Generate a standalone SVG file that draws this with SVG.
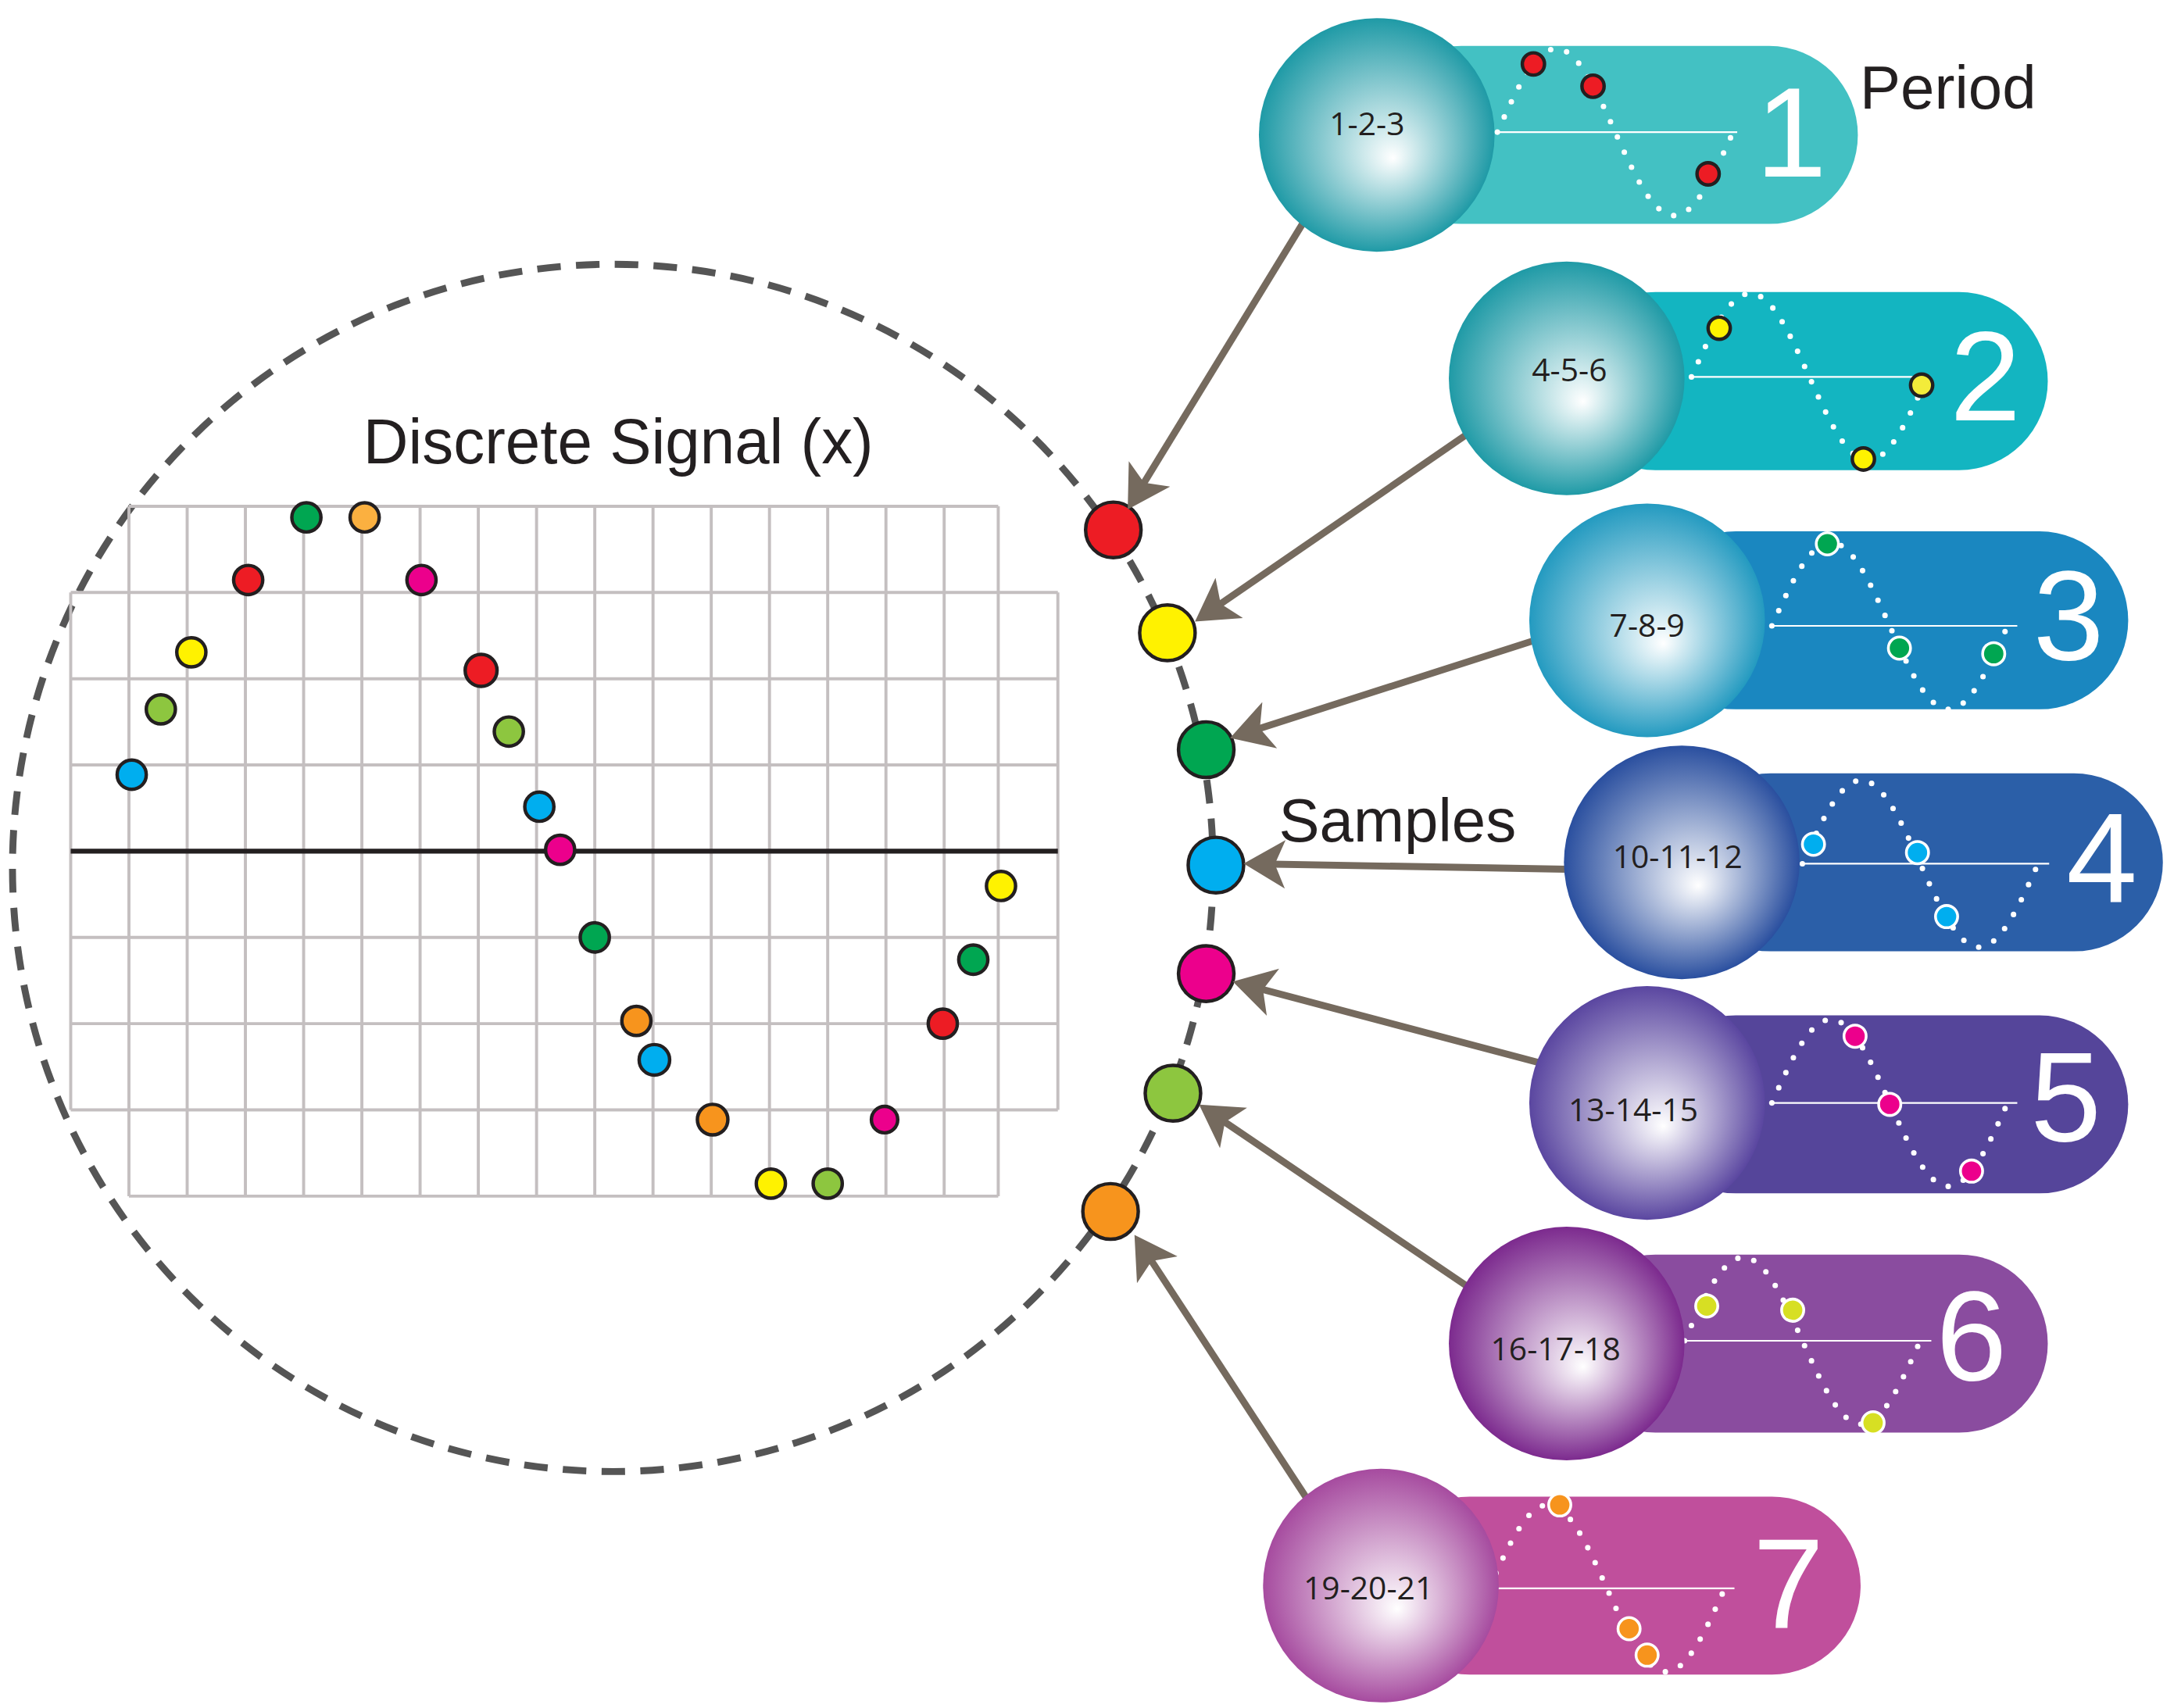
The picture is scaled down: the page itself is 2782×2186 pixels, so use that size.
<svg xmlns="http://www.w3.org/2000/svg" width="2782" height="2186" viewBox="0 0 2782 2186">
<style>
.g{stroke:#c4bfc0;stroke-width:2.2;fill:none}
.d{stroke:#231f20;stroke-width:2.5}
.s{stroke:#231f20;stroke-width:2.5}
.w{stroke:#fff;stroke-width:2}
.sine{fill:none;stroke:#fff;stroke-width:4;stroke-linecap:round;stroke-dasharray:0 12}
.base{stroke:#fff;stroke-width:1.2}
.arr{stroke:#756a5e;stroke-width:5;fill:none;marker-end:url(#ah)}
.lbl{font-family:"Open Sans","Liberation Sans",sans-serif;font-size:23px;fill:#231f20;text-anchor:middle}
.num{font-family:"Liberation Sans",sans-serif;font-size:92px;fill:#fff;text-anchor:middle}
.t{font-family:"Liberation Sans",sans-serif;fill:#231f20}
</style>
<defs>
<marker id="ah" markerWidth="8" markerHeight="8" refX="5" refY="4" orient="auto" markerUnits="strokeWidth">
<path d="M0,0.5 L6,4 L0,7.5 L1.5,4 Z" fill="#756a5e"/>
</marker>
<path id="sw" class="sine" d="M0,0 C13.9,-30.8 27.2,-60 42.5,-60 C57.8,-60 71.1,-30.8 85,0 C98.9,30.8 112.2,60 127.5,60 C142.8,60 156.1,30.8 170,0"/>
<radialGradient id="g1" cx="0.5" cy="0.5" r="0.5" fx="0.57" fy="0.6"><stop offset="0" stop-color="#fff"/><stop offset="1" stop-color="#1f9aa6"/></radialGradient>
<radialGradient id="g2" cx="0.5" cy="0.5" r="0.5" fx="0.57" fy="0.6"><stop offset="0" stop-color="#fff"/><stop offset="1" stop-color="#1f9aa6"/></radialGradient>
<radialGradient id="g3" cx="0.5" cy="0.5" r="0.5" fx="0.57" fy="0.6"><stop offset="0" stop-color="#fff"/><stop offset="1" stop-color="#239ac0"/></radialGradient>
<radialGradient id="g4" cx="0.5" cy="0.5" r="0.5" fx="0.57" fy="0.6"><stop offset="0" stop-color="#fff"/><stop offset="1" stop-color="#2a4f9f"/></radialGradient>
<radialGradient id="g5" cx="0.5" cy="0.5" r="0.5" fx="0.57" fy="0.6"><stop offset="0" stop-color="#fff"/><stop offset="1" stop-color="#5a46a0"/></radialGradient>
<radialGradient id="g6" cx="0.5" cy="0.5" r="0.5" fx="0.57" fy="0.6"><stop offset="0" stop-color="#fff"/><stop offset="1" stop-color="#7c2a8e"/></radialGradient>
<radialGradient id="g7" cx="0.5" cy="0.5" r="0.5" fx="0.57" fy="0.6"><stop offset="0" stop-color="#fff"/><stop offset="1" stop-color="#a64b9f"/></radialGradient>
</defs>
<rect width="2782" height="2186" fill="#fff"/>
<g transform="scale(1.7742 1.7801)">
<g id="signal">
<ellipse cx="442" cy="624" rx="433" ry="434" fill="none" stroke="#555" stroke-width="5" stroke-dasharray="17 11"/>
<text class="t" x="446" y="333" font-size="46" text-anchor="middle" textLength="368" lengthAdjust="spacingAndGlyphs">Discrete Signal (x)</text>
<path class="g" d="M93,364H720M51,426H763M51,488H763M51,550H763M51,674H763M51,736H763M51,798H763M93,860H720M51,426V798M763,426V798M93,364V860M135,364V860M177,364V860M219,364V860M261,364V860M303,364V860M345,364V860M387,364V860M429,364V860M471,364V860M513,364V860M555,364V860M597,364V860M639,364V860M681,364V860M720,364V860"/>
<path d="M51,612H763" stroke="#231f20" stroke-width="3.5"/>
<g class="d">
<circle cx="95" cy="557" r="10.5" fill="#00aeef"/>
<circle cx="116" cy="510" r="10.5" fill="#8dc63f"/>
<circle cx="138" cy="469" r="10.5" fill="#fff200"/>
<circle cx="179" cy="417" r="10.5" fill="#ed1c24"/>
<circle cx="221" cy="372" r="10.5" fill="#00a651"/>
<circle cx="263" cy="372" r="10.5" fill="#fbb040"/>
<circle cx="304" cy="417" r="10.5" fill="#ec008c"/>
<circle cx="347" cy="482" r="11.5" fill="#ed1c24"/>
<circle cx="367" cy="526" r="10.5" fill="#8dc63f"/>
<circle cx="389" cy="580" r="10.5" fill="#00aeef"/>
<circle cx="404" cy="611" r="10.5" fill="#ec008c"/>
<circle cx="429" cy="674" r="10.5" fill="#00a651"/>
<circle cx="459" cy="734" r="10.5" fill="#f7941d"/>
<circle cx="472" cy="762" r="11" fill="#00aeef"/>
<circle cx="514" cy="805" r="11" fill="#f7941d"/>
<circle cx="556" cy="851" r="10.5" fill="#fff200"/>
<circle cx="597" cy="851" r="10.5" fill="#8dc63f"/>
<circle cx="638" cy="805" r="9.5" fill="#ec008c"/>
<circle cx="680" cy="736" r="10.5" fill="#ed1c24"/>
<circle cx="702" cy="690" r="10.5" fill="#00a651"/>
<circle cx="722" cy="637" r="10.5" fill="#fff200"/>
</g>
</g>
<g id="samples" class="s">
<circle cx="803" cy="381" r="20" fill="#ed1c24"/>
<circle cx="842" cy="455" r="20" fill="#fff200"/>
<circle cx="870" cy="539" r="20" fill="#00a651"/>
<circle cx="877" cy="622" r="20" fill="#00aeef"/>
<circle cx="870" cy="700" r="20" fill="#ec008c"/>
<circle cx="846" cy="786" r="20" fill="#8dc63f"/>
<circle cx="801" cy="871" r="20" fill="#f7941d"/>
</g>
<text id="samples-label" class="t" x="1008" y="605" font-size="44" text-anchor="middle">Samples</text>
<text id="period-label" class="t" x="1405" y="78" font-size="44" text-anchor="middle">Period</text>
<g id="connectors">
<path class="arr" d="M940,160L816,362"/>
<path class="arr" d="M1057,313L866,444"/>
<path class="arr" d="M1105,461L892,529"/>
<path class="arr" d="M1130,625L902,621"/>
<path class="arr" d="M1110,764L894,707"/>
<path class="arr" d="M1060,926L869,797"/>
<path class="arr" d="M943,1078L821,892"/>
</g>
<g id="p1">
<rect x="990" y="33" width="350" height="128" rx="64" fill="#43c1c3"/>
<line class="base" x1="1078" y1="95" x2="1253" y2="95"/>
<use href="#sw" transform="translate(1080 95)"/>
<g class="s"><circle cx="1106" cy="46" r="8" fill="#ed1c24"/><circle cx="1149" cy="62" r="8" fill="#ed1c24"/><circle cx="1232" cy="125" r="8" fill="#ed1c24"/></g>
<text class="num" x="1292" y="127">1</text>
<ellipse cx="993" cy="97" rx="85" ry="84" fill="url(#g1)"/>
<text class="lbl" x="986" y="97">1-2-3</text>
</g>
<g id="p2">
<rect x="1130" y="210" width="347" height="128" rx="64" fill="#13b5c1"/>
<line class="base" x1="1218" y1="271" x2="1392" y2="271"/>
<use href="#sw" transform="translate(1220 271)"/>
<g class="s"><circle cx="1240" cy="236" r="8" fill="#fff200"/><circle cx="1386" cy="277" r="8" fill="#f3ec3a"/><circle cx="1344" cy="330" r="8" fill="#fff200"/></g>
<text class="num" x="1432" y="302">2</text>
<ellipse cx="1130" cy="272" rx="85" ry="84" fill="url(#g2)"/>
<text class="lbl" x="1132" y="274">4-5-6</text>
</g>
<g id="p3">
<rect x="1188" y="382" width="347" height="128" rx="64" fill="#1a87c0"/>
<line class="base" x1="1276" y1="450" x2="1455" y2="450"/>
<use href="#sw" transform="translate(1278 450)"/>
<g class="w"><circle cx="1318" cy="391" r="8" fill="#00a651"/><circle cx="1370" cy="466" r="8" fill="#00a651"/><circle cx="1438" cy="470" r="8" fill="#00a651"/></g>
<text class="num" x="1492" y="474">3</text>
<ellipse cx="1188" cy="446" rx="85" ry="84" fill="url(#g3)"/>
<text class="lbl" x="1188" y="458">7-8-9</text>
</g>
<g id="p4">
<rect x="1213" y="556" width="347" height="128" rx="64" fill="#2b5fa8"/>
<line class="base" x1="1298" y1="621" x2="1478" y2="621"/>
<use href="#sw" transform="translate(1300 621)"/>
<g class="w"><circle cx="1308" cy="607" r="8" fill="#00aeef"/><circle cx="1383" cy="613" r="8" fill="#00aeef"/><circle cx="1404" cy="659" r="8" fill="#00aeef"/></g>
<text class="num" x="1516" y="648">4</text>
<ellipse cx="1213" cy="620" rx="85" ry="84" fill="url(#g4)"/>
<text class="lbl" x="1210" y="624">10-11-12</text>
</g>
<g id="p5">
<rect x="1188" y="730" width="347" height="128" rx="64" fill="#55459a"/>
<line class="base" x1="1276" y1="793" x2="1455" y2="793"/>
<use href="#sw" transform="translate(1278 793)"/>
<g class="w"><circle cx="1338" cy="745" r="8" fill="#ec008c"/><circle cx="1363" cy="794" r="8" fill="#ec008c"/><circle cx="1422" cy="842" r="8" fill="#ec008c"/></g>
<text class="num" x="1490" y="820">5</text>
<ellipse cx="1188" cy="793" rx="85" ry="84" fill="url(#g5)"/>
<text class="lbl" x="1178" y="806">13-14-15</text>
</g>
<g id="p6">
<rect x="1130" y="902" width="347" height="128" rx="64" fill="#8a4c9f"/>
<line class="base" x1="1213" y1="964" x2="1393" y2="964"/>
<use href="#sw" transform="translate(1215 964)"/>
<g class="w"><circle cx="1231" cy="939" r="8" fill="#d7df23"/><circle cx="1293" cy="942" r="8" fill="#d7df23"/><circle cx="1351" cy="1023" r="8" fill="#d7df23"/></g>
<text class="num" x="1422" y="992">6</text>
<ellipse cx="1130" cy="966" rx="85" ry="84" fill="url(#g6)"/>
<text class="lbl" x="1122" y="978">16-17-18</text>
</g>
<g id="p7">
<rect x="996" y="1076" width="346" height="128" rx="64" fill="#c04f9c"/>
<line class="base" x1="1072" y1="1142" x2="1251" y2="1142"/>
<use href="#sw" transform="translate(1074 1142)"/>
<g class="w"><circle cx="1125" cy="1082" r="8" fill="#f7941d"/><circle cx="1175" cy="1171" r="8" fill="#f7941d"/><circle cx="1188" cy="1190" r="8" fill="#f7941d"/></g>
<text class="num" x="1290" y="1170">7</text>
<ellipse cx="996" cy="1140" rx="85" ry="84" fill="url(#g7)"/>
<text class="lbl" x="987" y="1150">19-20-21</text>
</g>
</g>
</svg>
